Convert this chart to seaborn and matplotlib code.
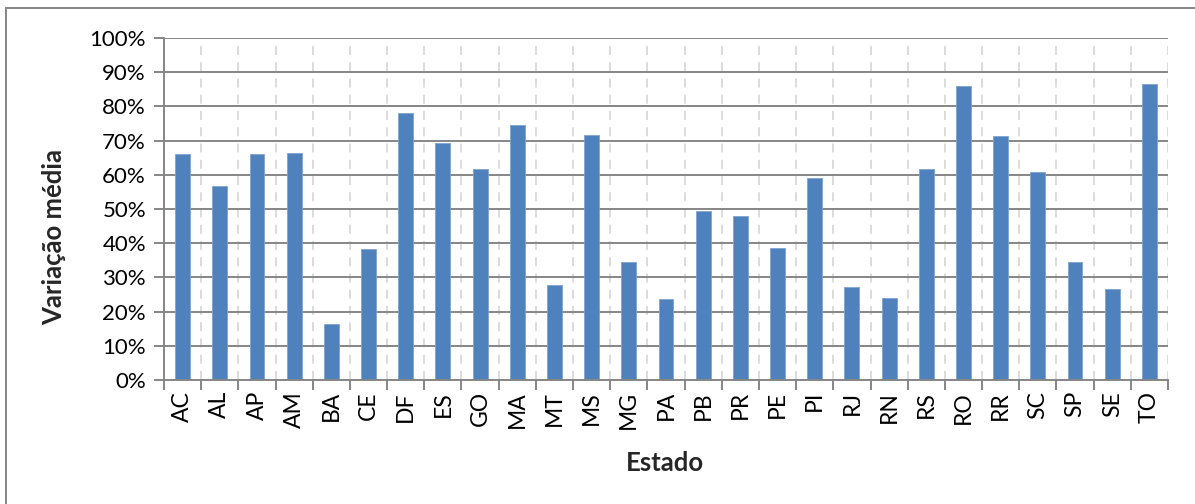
import matplotlib
matplotlib.use("Agg")
import matplotlib.pyplot as plt
from matplotlib.patches import Rectangle
from matplotlib.ticker import FuncFormatter, FixedLocator
import seaborn as sns
import pandas as pd

estados = ["AC", "AL", "AP", "AM", "BA", "CE", "DF", "ES", "GO", "MA", "MT", "MS",
           "MG", "PA", "PB", "PR", "PE", "PI", "RJ", "RN", "RS", "RO", "RR", "SC",
           "SP", "SE", "TO"]
variacao = [66.2, 56.7, 66.0, 66.4, 16.4, 38.2, 78.2, 69.2, 61.7, 74.6, 27.8, 71.6,
            34.5, 23.7, 49.5, 48.0, 38.5, 59.0, 27.1, 24.0, 61.6, 86.0, 71.3, 60.8,
            34.5, 26.6, 86.5]
y_ticks = [0, 10, 20, 30, 40, 50, 60, 70, 80, 90, 100]

df = pd.DataFrame({"Estado": estados, "Variacao": variacao})

sns.set_theme(style="white")
plt.rcParams["font.family"] = ["Lato", "DejaVu Sans"]

W, H = 1195, 504
fig = plt.figure(figsize=(W / 100, H / 100), dpi=100)
ax = fig.add_axes([164 / W, 124 / H, 1004 / W, 342 / H])

sns.barplot(data=df, x="Estado", y="Variacao", color="#4f81bd", saturation=1,
            width=0.4, edgecolor="#7fa3d1", linewidth=0.6, ax=ax, zorder=3)

ax.set_xlim(-0.5, len(estados) - 0.5)
ax.set_ylim(0, 100)
ax.yaxis.set_major_locator(FixedLocator(y_ticks))
ax.yaxis.set_major_formatter(FuncFormatter(lambda v, _: f"{v:.0f}%"))

# horizontal gridlines
for v in y_ticks[1:]:
    ax.axhline(v, color="#868686", lw=1.4, zorder=1)
# dashed vertical separators between categories
for b in range(len(estados) + 1):
    ax.axvline(b - 0.5, color="#d9d9d9", lw=1.3, ls=(0, (5, 4)), zorder=0)

for s in ["top", "right"]:
    ax.spines[s].set_visible(False)
for s in ["left", "bottom"]:
    ax.spines[s].set_color("#868686")
    ax.spines[s].set_linewidth(1.4)
    ax.spines[s].set_zorder(4)

ax.set_xticks(range(len(estados)))
ax.set_xticklabels(estados, rotation=90, fontsize=16.5, color="black")
ax.tick_params(axis="x", length=0, pad=8)
ax.set_xticks([b - 0.5 for b in range(len(estados) + 1)], minor=True)
ax.tick_params(axis="x", which="minor", bottom=True, length=7, width=1.4, color="#868686")
ax.tick_params(axis="y", left=True, length=7, width=1.4, color="#868686",
               labelsize=16, labelcolor="black", pad=6)

ax.set_xlabel("Estado", fontsize=18.5, fontweight="bold")
ax.set_ylabel("Variação média", fontsize=18.5, fontweight="bold")
ax.xaxis.set_label_coords((665 - 164) / 1004, -(451 - 380) / 342)
ax.yaxis.set_label_coords(-(164 - 66) / 1004, (380 - 237) / 342)

# chart-area frame
fig.patches.append(Rectangle((6 / W, -10 / H), (W + 10) / W, (H + 2) / H,
                             transform=fig.transFigure, fill=False,
                             edgecolor="#868686", lw=1.4))

fig.savefig("out.png", dpi=100, facecolor="white")
